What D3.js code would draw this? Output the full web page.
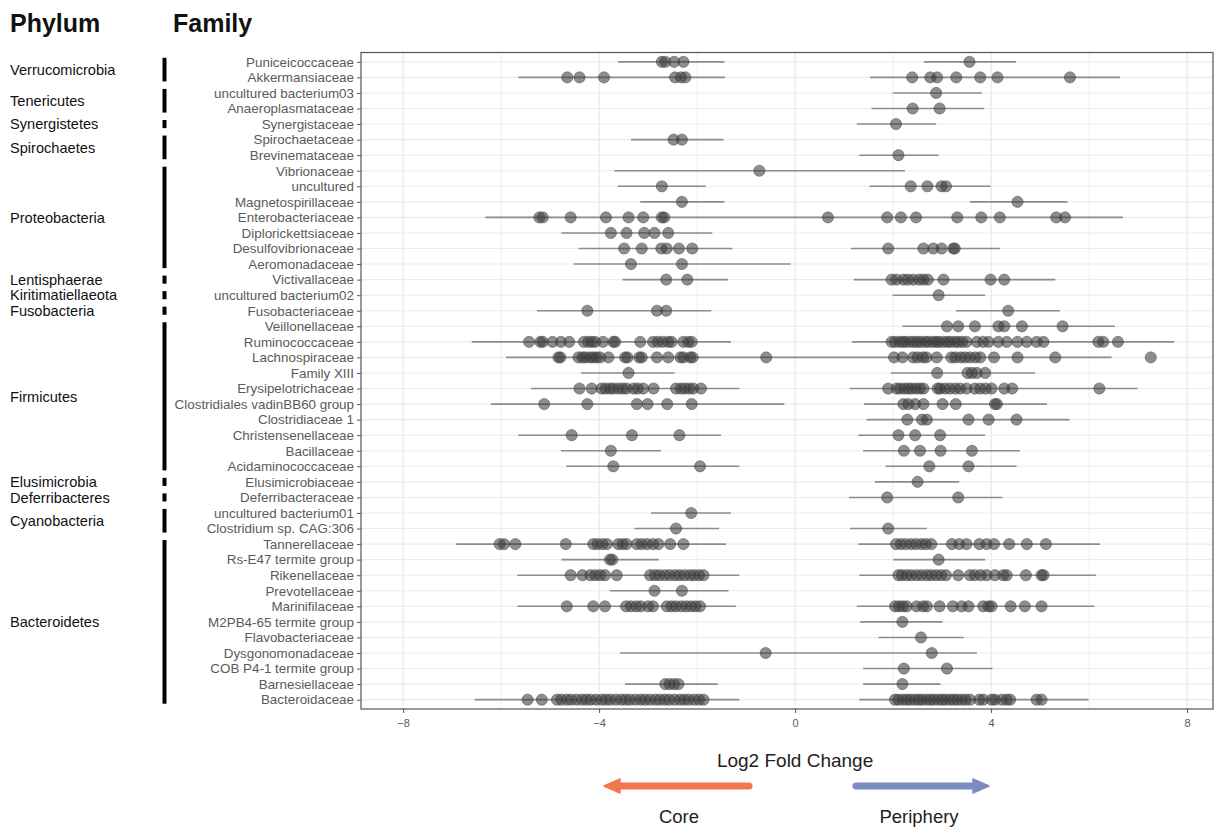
<!DOCTYPE html>
<html>
<head>
<meta charset="utf-8">
<script src="https://cdn.jsdelivr.net/npm/d3@7"></script>
<style>
  body { margin: 0; background: #fff; }
  svg { display: block; font-family: "Liberation Sans", Arial, sans-serif; }
</style>
</head>
<body>
<svg id="chart" width="1218" height="829"></svg>
<script>
// Families in display order (top to bottom)
const families = [
  "Puniceicoccaceae", "Akkermansiaceae", "uncultured bacterium03", "Anaeroplasmataceae",
  "Synergistaceae", "Spirochaetaceae", "Brevinemataceae", "Vibrionaceae", "uncultured",
  "Magnetospirillaceae", "Enterobacteriaceae", "Diplorickettsiaceae", "Desulfovibrionaceae",
  "Aeromonadaceae", "Victivallaceae", "uncultured bacterium02", "Fusobacteriaceae",
  "Veillonellaceae", "Ruminococcaceae", "Lachnospiraceae", "Family XIII",
  "Erysipelotrichaceae", "Clostridiales vadinBB60 group", "Clostridiaceae 1",
  "Christensenellaceae", "Bacillaceae", "Acidaminococcaceae", "Elusimicrobiaceae",
  "Deferribacteraceae", "uncultured bacterium01", "Clostridium sp. CAG:306",
  "Tannerellaceae", "Rs-E47 termite group", "Rikenellaceae", "Prevotellaceae",
  "Marinifilaceae", "M2PB4-65 termite group", "Flavobacteriaceae", "Dysgonomonadaceae",
  "COB P4-1 termite group", "Barnesiellaceae", "Bacteroidaceae"
];

// Phyla and how many consecutive families each one covers
const phyla = [
  "Verrucomicrobia", "Tenericutes", "Synergistetes", "Spirochaetes", "Proteobacteria",
  "Lentisphaerae", "Kiritimatiellaeota", "Fusobacteria", "Firmicutes", "Elusimicrobia",
  "Deferribacteres", "Cyanobacteria", "Bacteroidetes"
];
const phylumSizes = [2, 2, 1, 2, 7, 1, 1, 1, 10, 1, 1, 2, 11];

// Log2 fold change of each differentially abundant ASV, per family
const familyLfc = [
  [-2.72, -2.65, -2.47, -2.28, 3.56],
  [-4.65, -4.40, -3.90, -2.45, -2.33, -2.24, 2.39, 2.76, 2.90, 3.29, 3.78, 4.13, 5.61],
  [2.88],
  [2.40, 2.95],
  [2.06],
  [-2.48, -2.31],
  [2.11],
  [-0.73],
  [-2.72, 2.36, 2.70, 2.99, 3.08],
  [-2.31, 4.54],
  [-5.22, -5.15, -4.58, -3.86, -3.40, -3.10, -2.72, -2.67, 0.67, 1.88, 2.16, 2.47, 3.31, 3.80, 4.18, 5.33, 5.51],
  [-3.76, -3.44, -3.08, -2.87, -2.59],
  [-3.49, -3.13, -2.73, -2.62, -2.37, -2.10, 1.90, 2.62, 2.82, 2.99, 3.23, 3.26],
  [-3.35, -2.31],
  [-2.63, -2.20, 1.97, 2.07, 2.21, 2.30, 2.41, 2.53, 2.62, 2.71, 3.03, 3.99, 4.27],
  [2.93],
  [-4.24, -2.82, -2.63, 4.35],
  [3.10, 3.33, 3.67, 4.15, 4.27, 4.63, 5.46],
  [-5.43, -5.20, -5.15, -4.95, -4.78, -4.61, -4.31, -4.22, -4.15, -4.08, -3.92, -3.71, -3.67,
   -3.16, -2.90, -2.80, -2.70, -2.59, -2.52, -2.28, -2.18, -2.11,
   1.97, 2.04, 2.13, 2.20, 2.26, 2.35, 2.43, 2.50, 2.57, 2.66, 2.72, 2.81, 2.88, 2.94, 3.03,
   3.11, 3.17, 3.26, 3.33, 3.41, 3.50, 3.71, 3.84, 3.95, 4.15, 4.32, 4.54, 4.73, 4.93, 5.07,
   6.19, 6.29, 6.59],
  [-4.83, -4.79, -4.42, -4.34, -4.28, -4.19, -4.12, -4.05, -3.98, -3.81, -3.47, -3.42, -3.18,
   -3.13, -2.82, -2.59, -2.34, -2.28, -2.14, -2.09, -0.59,
   2.02, 2.19, 2.41, 2.50, 2.61, 2.68, 2.89, 3.19, 3.27, 3.38, 3.47, 3.57, 3.68, 3.78, 4.06,
   4.54, 5.31, 7.26],
  [-3.40, 2.90, 3.52, 3.61, 3.71, 3.88],
  [-4.40, -4.15, -3.95, -3.87, -3.78, -3.71, -3.61, -3.52, -3.44, -3.30, -3.21, -3.10, -2.89,
   -2.43, -2.33, -2.25, -2.16, -2.08, -1.92,
   1.90, 2.07, 2.14, 2.23, 2.31, 2.38, 2.47, 2.55, 2.62, 2.91, 2.96, 3.06, 3.16, 3.27, 3.37,
   3.50, 3.67, 3.78, 3.89, 4.01, 4.27, 4.43, 6.21],
  [-5.12, -4.24, -3.23, -3.01, -2.61, -2.11, 2.21, 2.31, 2.45, 2.62, 3.01, 3.28, 4.08, 4.12],
  [2.29, 2.59, 2.69, 3.54, 3.95, 4.52],
  [-4.56, -3.33, -2.36, 2.11, 2.45, 2.96],
  [-3.76, 2.22, 2.55, 2.97, 3.61],
  [-3.71, -1.94, 2.74, 3.54],
  [2.50],
  [1.88, 3.33],
  [-2.12],
  [-2.43, 1.90],
  [-6.03, -5.94, -5.71, -4.68, -4.12, -4.03, -3.93, -3.84, -3.61, -3.52, -3.44, -3.23, -3.13,
   -3.02, -2.90, -2.79, -2.55, -2.28,
   2.06, 2.16, 2.26, 2.37, 2.47, 2.58, 2.67, 2.78, 3.20, 3.35, 3.50, 3.76, 3.91, 4.06, 4.37,
   4.73, 5.12],
  [-3.78, -3.73, 2.93],
  [-4.58, -4.34, -4.18, -4.08, -3.98, -3.88, -3.64, -2.96, -2.86, -2.77, -2.66, -2.56, -2.45,
   -2.36, -2.26, -2.15, -2.06, -1.96, -1.87,
   2.11, 2.18, 2.28, 2.37, 2.48, 2.58, 2.69, 2.78, 2.88, 2.98, 3.08, 3.33, 3.57, 3.67, 3.79,
   3.91, 4.08, 4.25, 4.32, 4.71, 5.03, 5.07],
  [-2.87, -2.31],
  [-4.66, -4.12, -3.88, -3.45, -3.35, -3.24, -3.15, -3.00, -2.90, -2.62, -2.52, -2.43, -2.32,
   -2.22, -2.12, -2.03, -1.94,
   2.04, 2.12, 2.20, 2.28, 2.48, 2.61, 2.69, 2.95, 3.22, 3.40, 3.54, 3.84, 3.95, 4.01, 4.40,
   4.69, 5.03],
  [2.19],
  [2.57],
  [-0.60, 2.79],
  [2.22, 3.10],
  [-2.65, -2.56, -2.47, -2.38, 2.19],
  [-5.46, -5.17, -4.86, -4.77, -4.66, -4.57, -4.46, -4.35, -4.26, -4.17, -4.06, -3.95, -3.86,
   -3.77, -3.66, -3.55, -3.46, -3.37, -3.26, -3.15, -3.06, -2.96, -2.85, -2.76, -2.66, -2.57,
   -2.46, -2.35, -2.26, -2.17, -2.06, -1.96, -1.87,
   2.04, 2.11, 2.20, 2.28, 2.35, 2.44, 2.52, 2.59, 2.68, 2.76, 2.83, 2.92, 3.00, 3.07, 3.16,
   3.24, 3.31, 3.40, 3.48, 3.57, 3.76, 3.84, 4.01, 4.08, 4.22, 4.32, 4.39, 4.93, 5.03]
];

// Spans covered by the ASVs' confidence intervals, per family
const familyCi = [
  [[-3.61, -1.44], [2.63, 4.51]],
  [[-5.65, -1.43], [1.53, 6.63]],
  [[1.99, 3.81]],
  [[1.56, 3.86]],
  [[1.26, 2.88]],
  [[-3.35, -1.46]],
  [[1.31, 2.93]],
  [[-3.69, 2.24]],
  [[-3.62, -1.82], [1.52, 3.99]],
  [[-3.16, -1.44], [3.57, 5.56]],
  [[-6.32, 6.69]],
  [[-4.77, -1.69]],
  [[-4.42, -1.28], [1.14, 4.18]],
  [[-4.52, -0.09]],
  [[-3.52, -1.37], [1.20, 5.31]],
  [[1.99, 3.88]],
  [[-5.27, -1.71], [3.28, 5.41]],
  [[2.19, 6.53]],
  [[-6.60, -1.31], [1.16, 7.74]],
  [[-5.90, 6.46]],
  [[-4.37, -2.46], [1.96, 4.90]],
  [[-5.39, -1.14], [1.12, 6.99]],
  [[-6.21, -0.22], [1.41, 5.14]],
  [[1.46, 5.60]],
  [[-5.65, -1.51], [1.29, 3.88]],
  [[-4.78, -2.74], [1.39, 4.59]],
  [[-4.67, -1.14], [1.85, 4.52]],
  [[1.63, 3.35]],
  [[1.10, 4.23]],
  [[-2.94, -1.31]],
  [[-3.28, -1.55], [1.12, 2.69]],
  [[-6.92, -1.41], [1.29, 6.22]],
  [[-4.77, -2.78], [2.01, 3.88]],
  [[-5.67, -1.14], [1.31, 6.14]],
  [[-3.78, -1.36]],
  [[-5.67, -1.21], [1.26, 6.11]],
  [[1.33, 3.01]],
  [[1.70, 3.44]],
  [[-3.57, 3.71]],
  [[1.39, 4.03]],
  [[-3.47, -1.58], [1.39, 2.97]],
  [[-6.54, -1.14], [1.31, 5.99]]
];

const xTicks = [-8, -4, 0, 4, 8];
const xMinorTicks = [-6, -2, 2, 6];
const directionLabels = ["Core", "Periphery"];

// ---------------------------------------------------------------------------
const svg = d3.select("#chart");
const panel = { left: 361, right: 1213, top: 52.5, bottom: 709 };

const x = d3.scaleLinear().domain([-8.86, 8.53]).range([panel.left, panel.right]);
const y = d3.scalePoint().domain(families).range([panel.top, panel.bottom]).padding(0.6);
const step = y.step();

// Grid
const grid = svg.append("g");
grid.selectAll("line.minor").data(xMinorTicks).join("line")
  .attr("x1", d => x(d)).attr("x2", d => x(d))
  .attr("y1", panel.top).attr("y2", panel.bottom)
  .attr("stroke", "#f0f0f0").attr("stroke-width", 1);
grid.selectAll("line.major").data(xTicks).join("line")
  .attr("x1", d => x(d)).attr("x2", d => x(d))
  .attr("y1", panel.top).attr("y2", panel.bottom)
  .attr("stroke", "#e6e6e6").attr("stroke-width", 1.1);
grid.selectAll("line.row").data(families).join("line")
  .attr("x1", panel.left).attr("x2", panel.right)
  .attr("y1", d => y(d)).attr("y2", d => y(d))
  .attr("stroke", "#ebebeb").attr("stroke-width", 1.1);

// Confidence interval spans
const spans = [];
familyCi.forEach((list, i) => list.forEach(([lo, hi]) => spans.push({ f: families[i], lo, hi })));
svg.append("g").selectAll("line").data(spans).join("line")
  .attr("x1", d => x(d.lo)).attr("x2", d => x(d.hi))
  .attr("y1", d => y(d.f)).attr("y2", d => y(d.f))
  .attr("stroke", "#8c8c8c").attr("stroke-width", 1.6);

// ASV points
const points = [];
familyLfc.forEach((vals, i) => vals.forEach(v => points.push({ f: families[i], v })));
svg.append("g").selectAll("circle").data(points).join("circle")
  .attr("cx", d => x(d.v)).attr("cy", d => y(d.f)).attr("r", 5.6)
  .attr("fill", "#3c3c3c").attr("fill-opacity", 0.58)
  .attr("stroke", "#3c3c3c").attr("stroke-opacity", 0.45).attr("stroke-width", 1);

// Panel border
svg.append("rect")
  .attr("x", panel.left).attr("y", panel.top)
  .attr("width", panel.right - panel.left).attr("height", panel.bottom - panel.top)
  .attr("fill", "none").attr("stroke", "#555").attr("stroke-width", 1.2);

// Y axis (families)
const yAxis = svg.append("g").attr("transform", `translate(${panel.left},0)`)
  .call(d3.axisLeft(y).tickSize(4).tickPadding(3));
yAxis.select(".domain").remove();
yAxis.selectAll(".tick line").attr("stroke", "#555");
yAxis.selectAll(".tick text")
  .attr("fill", "#5a5a5a").attr("font-size", "13.4px")
  .attr("font-family", "'Liberation Sans', Arial, sans-serif");

// X axis
const xAxis = svg.append("g").attr("transform", `translate(0,${panel.bottom})`)
  .call(d3.axisBottom(x).tickValues(xTicks).tickSize(4).tickPadding(6));
xAxis.select(".domain").remove();
xAxis.selectAll(".tick line").attr("stroke", "#555");
xAxis.selectAll(".tick text")
  .attr("fill", "#5a5a5a").attr("font-size", "11px")
  .attr("font-family", "'Liberation Sans', Arial, sans-serif");

// Column headers
svg.append("text").attr("x", 10).attr("y", 32).text("Phylum")
  .attr("font-size", "25px").attr("font-weight", "bold").attr("fill", "#111");
svg.append("text").attr("x", 173).attr("y", 32).text("Family")
  .attr("font-size", "25px").attr("font-weight", "bold").attr("fill", "#111");

// Phylum brackets and labels
let start = 0;
const phylumRows = phyla.map((name, i) => {
  const first = families[start];
  const last = families[start + phylumSizes[i] - 1];
  start += phylumSizes[i];
  return { name, first, last };
});
svg.append("g").selectAll("rect").data(phylumRows).join("rect")
  .attr("x", 162.5).attr("width", 4)
  .attr("y", d => y(d.first) - step * 0.26)
  .attr("height", d => y(d.last) - y(d.first) + step * 0.52)
  .attr("fill", "#000");
svg.append("g").selectAll("text").data(phylumRows).join("text")
  .attr("x", 10)
  .attr("y", d => (y(d.first) + y(d.last)) / 2)
  .attr("dy", "0.36em")
  .attr("font-size", "14.6px").attr("fill", "#111")
  .text(d => d.name);

// Axis title and direction arrows
svg.append("text").attr("x", x(0)).attr("y", 767).attr("text-anchor", "middle")
  .attr("font-size", "19px").attr("fill", "#222").text("Log2 Fold Change");

function arrow(x0, x1, yc, color) {
  const dir = Math.sign(x1 - x0);
  const headLen = 16, headHalf = 7, shaftHalf = 3.6;
  const xb = x1 - dir * headLen;
  svg.append("line").attr("x1", x0).attr("x2", xb + dir * 2).attr("y1", yc).attr("y2", yc)
    .attr("stroke", color).attr("stroke-width", shaftHalf * 2).attr("stroke-linecap", "round");
  svg.append("path")
    .attr("d", `M${x1},${yc} L${xb},${yc - headHalf} L${xb},${yc + headHalf} Z`)
    .attr("fill", color).attr("stroke", color).attr("stroke-width", 1.5)
    .attr("stroke-linejoin", "round");
}
arrow(749, 604, 786, "#f2774f");
arrow(856, 989, 786, "#7b8bc3");

svg.append("text").attr("x", 679).attr("y", 823).attr("text-anchor", "middle")
  .attr("font-size", "18.5px").attr("fill", "#222").text(directionLabels[0]);
svg.append("text").attr("x", 919).attr("y", 823).attr("text-anchor", "middle")
  .attr("font-size", "18.5px").attr("fill", "#222").text(directionLabels[1]);
</script>
</body>
</html>
